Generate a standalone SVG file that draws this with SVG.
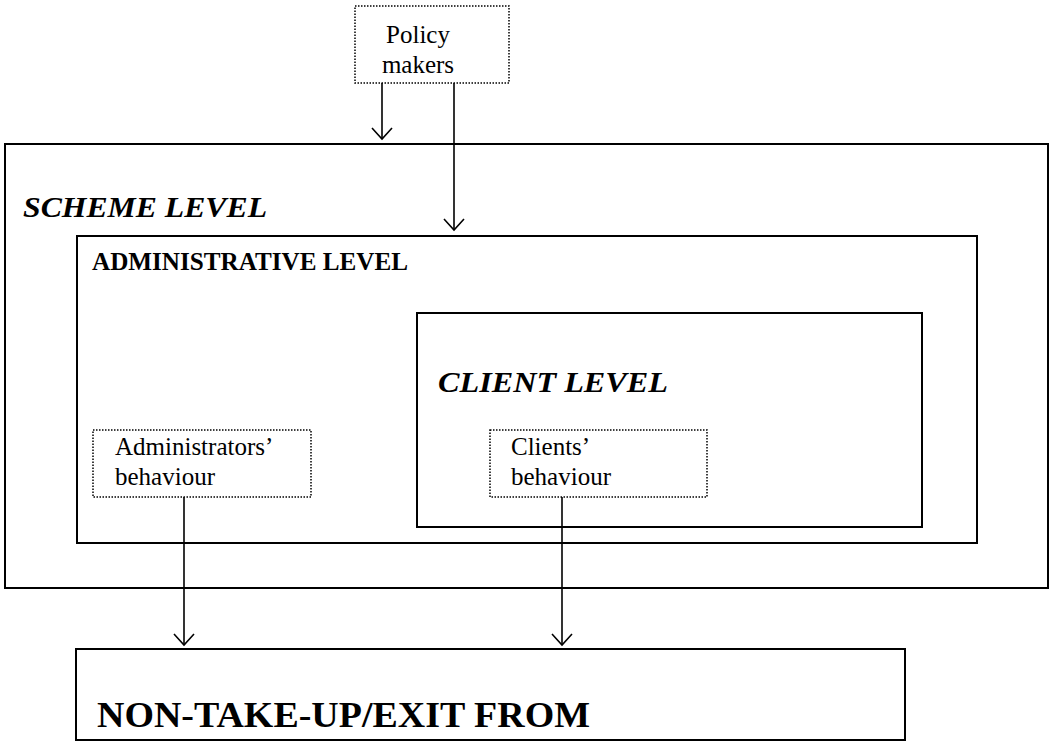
<svg xmlns="http://www.w3.org/2000/svg" width="1049" height="742" viewBox="0 0 1049 742">
<style>
text{font-family:"Liberation Serif","Times New Roman",serif;fill:#000}
.box{fill:none;stroke:#000;stroke-width:2}
.dot{fill:#fff;stroke:#000;stroke-width:1.5;stroke-dasharray:1.5 1.5}
.con{fill:none;stroke:#000;stroke-width:1.6}
.lvl{font-size:30px;font-weight:bold;font-style:italic}
.lbl{font-size:25px}
</style>
<defs>
<marker id="arr" viewBox="-13 -11 15 22" refX="0" refY="0" markerWidth="15" markerHeight="22" markerUnits="userSpaceOnUse" orient="auto">
<path d="M-11,-10 L0,0 L-11,10" fill="none" stroke="#000" stroke-width="1.6"/>
</marker>
</defs>
<rect width="1049" height="742" fill="#fff"/>
<g id="scheme-level">
<rect class="box" x="5" y="144" width="1043" height="444"/>
<text class="lvl" x="23" y="217" textLength="244" lengthAdjust="spacingAndGlyphs">SCHEME LEVEL</text>
</g>
<g id="administrative-level">
<rect class="box" x="77" y="236" width="900" height="307"/>
<text x="92" y="270" font-size="25" font-weight="bold" textLength="316" lengthAdjust="spacingAndGlyphs">ADMINISTRATIVE LEVEL</text>
</g>
<g id="client-level">
<rect class="box" x="417" y="313" width="505" height="214"/>
<text class="lvl" x="438" y="392" textLength="230" lengthAdjust="spacingAndGlyphs">CLIENT LEVEL</text>
</g>
<g id="policy-makers">
<rect class="dot" x="355" y="6" width="154" height="77"/>
<text class="lbl" x="418" y="43" text-anchor="middle">Policy</text>
<text class="lbl" x="418" y="73" text-anchor="middle">makers</text>
</g>
<g id="administrators-behaviour">
<rect class="dot" x="93" y="430" width="218" height="67"/>
<text class="lbl" x="115" y="455">Administrators’</text>
<text class="lbl" x="115" y="485">behaviour</text>
</g>
<g id="clients-behaviour">
<rect class="dot" x="490" y="430" width="217" height="67"/>
<text class="lbl" x="511" y="455">Clients’</text>
<text class="lbl" x="511" y="485">behaviour</text>
</g>
<g id="non-take-up">
<rect class="box" x="76" y="649" width="829" height="91"/>
<text x="97" y="727" font-size="36" font-weight="bold" textLength="493" lengthAdjust="spacingAndGlyphs">NON-TAKE-UP/EXIT FROM</text>
</g>
<g id="connectors">
<line class="con" x1="382" y1="83" x2="382" y2="139" marker-end="url(#arr)"/>
<line class="con" x1="454" y1="83" x2="454" y2="230" marker-end="url(#arr)"/>
<line class="con" x1="184" y1="497" x2="184" y2="645" marker-end="url(#arr)"/>
<line class="con" x1="562" y1="497" x2="562" y2="645" marker-end="url(#arr)"/>
</g>
</svg>
